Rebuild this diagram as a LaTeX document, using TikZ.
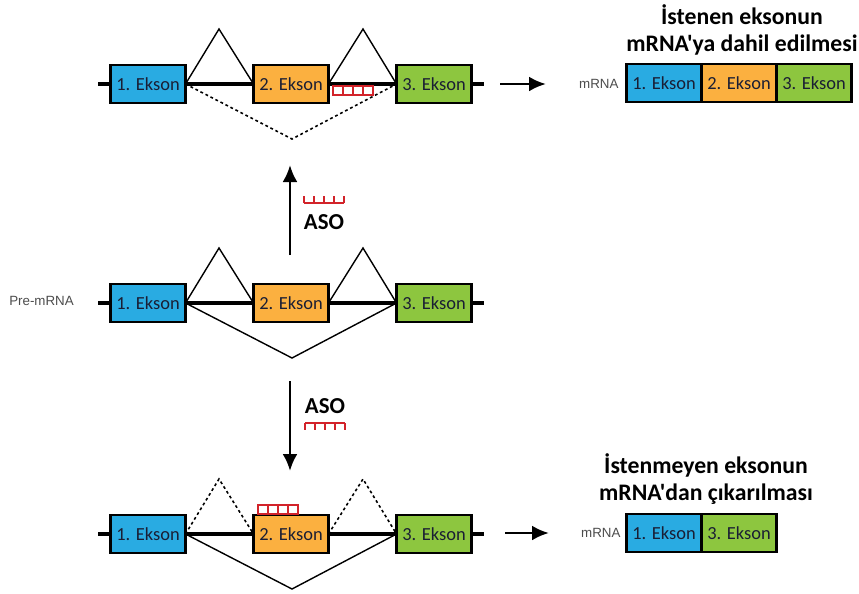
\documentclass[tikz,border=0pt]{standalone}
\usepackage{fontspec}
\setmainfont{Carlito}
\newfontfamily\titlefont{Carlito}
\newfontfamily\arialfont{Liberation Sans}
\usetikzlibrary{positioning,arrows.meta}

\definecolor{eksonblue}{RGB}{41,171,226}
\definecolor{eksonorange}{RGB}{251,176,64}
\definecolor{eksongreen}{RGB}{141,198,63}
\definecolor{asored}{RGB}{210,35,42}
\definecolor{eksontext}{RGB}{26,30,52}

\tikzset{
  ekson/.style={draw, line width=1.4pt, minimum width=1.5cm, minimum height=0.76cm,
    outer sep=0pt, inner sep=0pt, text=eksontext, font=\fontsize{10.5}{12}\selectfont},
  rna/.style={line width=2.3pt},
  splice/.style={line width=0.8pt},
  dotline/.style={line width=0.9pt, dash pattern=on 1.6pt off 1.6pt},
  arr/.style={line width=1.6pt, -{Latex[length=3.4mm,width=3mm]}},
  lbl/.style={font=\arialfont\fontsize{7.6}{9}\selectfont, text=black!70},
  title/.style={font=\titlefont\bfseries\fontsize{13.5}{15}\selectfont, align=center},
  asotext/.style={font=\bfseries\fontsize{13}{15}\selectfont},
  pics/comb/.style={code={
      \draw[asored, line width=1pt] (0,0) -- (40,0);
      \foreach \i in {0,10,...,40} \draw[asored, line width=1pt] (\i,0) -- (\i,7);
  }},
  pics/combbox/.style={code={
      \draw[asored, line width=1pt] (0,0) rectangle (40,9);
      \foreach \i in {10,20,30} \draw[asored, line width=1pt] (\i,0) -- (\i,9);
  }},
}

\begin{document}
\begin{tikzpicture}[x=0.02cm, y=-0.02cm]
  \useasboundingbox (0,0) rectangle (859,593);

  % three rows of the pre-mRNA: name / y / upper splice / lower splice
  \foreach \r/\y/\up/\down in {a/84/splice/dotline, b/303/splice/splice, c/534/dotline/splice}{
    \coordinate (s\r) at (98,\y);
    \coordinate (t\r) at (484,\y);
    \draw[rna] (s\r) -- (t\r);
    \node[ekson, fill=eksonblue]   (e1\r) at (148,\y) {1. Ekson};
    \node[ekson, fill=eksonorange] (e2\r) at (291,\y) {2. Ekson};
    \node[ekson, fill=eksongreen]  (e3\r) at (434,\y) {3. Ekson};
    \coordinate (p1\r) at (219,\y-55);
    \coordinate (p2\r) at (363,\y-55);
    \coordinate (v\r) at (292,\y+55);
    \draw[\up] (e1\r.east) -- (p1\r) -- (e2\r.west);
    \draw[\up] (e2\r.east) -- (p2\r) -- (e3\r.west);
    \draw[\down] (e1\r.east) -- (v\r) -- (e3\r.west);
  }

  \node[lbl, anchor=east] (pre) at (80,301) {Pre-mRNA};

  % ASO bound to the intron / to exon 2
  \pic at (333,86) {combbox};
  \pic at (258,505) {combbox};

  % ASO arrows
  \coordinate (upfrom) at (290,255);
  \coordinate (upto) at (290,165);
  \draw[arr] (upfrom) -- (upto);
  \pic[yscale=-1] at (304,203) {comb};
  \node[asotext] (asoup) at (324,222) {ASO};

  \coordinate (downfrom) at (290,381);
  \coordinate (downto) at (290,471);
  \draw[arr] (downfrom) -- (downto);
  \node[asotext] (asodown) at (325,406) {ASO};
  \pic at (305,423) {comb};

  % spliced mRNA, exon included
  \coordinate (ra) at (500,84);
  \coordinate (rae) at (546,84);
  \node[lbl, anchor=west] (mrnaa) at (573,84) {mRNA};
  \draw[arr] (ra) -- (rae);
  \node[ekson, fill=eksonblue] (m1a) at (664,83) {1. Ekson};
  \node[ekson, fill=eksonorange, right=0pt of m1a] (m2a) {2. Ekson};
  \node[ekson, fill=eksongreen, right=0pt of m2a] (m3a) {3. Ekson};
  \node[title] (tita) at (742,30) {İstenen eksonun\\mRNA'ya dahil edilmesi};

  % spliced mRNA, exon skipped
  \coordinate (rc) at (505,533);
  \coordinate (rce) at (549,533);
  \node[lbl, anchor=west] (mrnac) at (575,533) {mRNA};
  \draw[arr] (rc) -- (rce);
  \node[ekson, fill=eksonblue] (m1c) at (664,533) {1. Ekson};
  \node[ekson, fill=eksongreen, right=0pt of m1c] (m3c) {3. Ekson};
  \node[title] (titc) at (706,479) {İstenmeyen eksonun\\mRNA'dan çıkarılması};
\end{tikzpicture}
\end{document}
